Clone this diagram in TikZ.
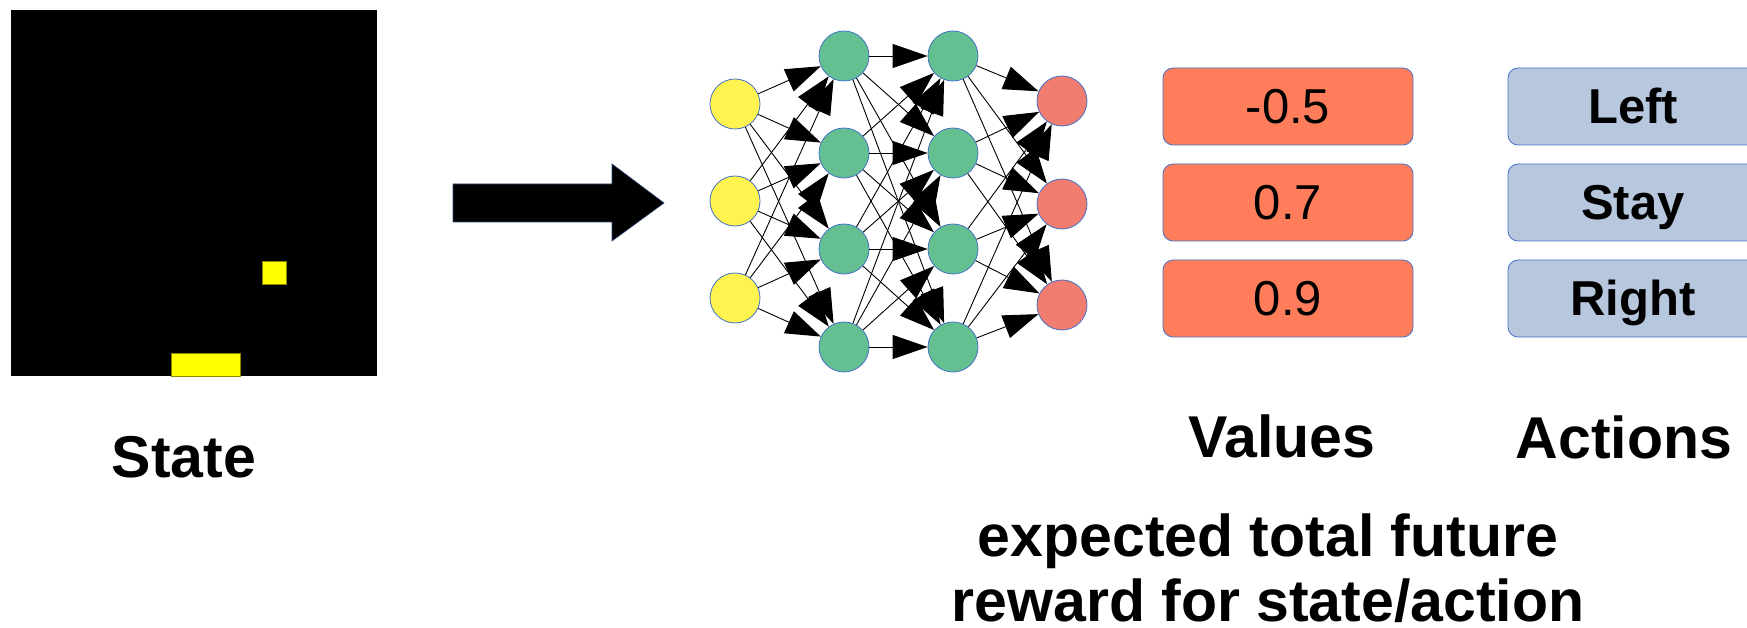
\documentclass[tikz,border=0pt]{standalone}
\usepackage{fontspec}
\setmainfont{Liberation Sans}
\usetikzlibrary{arrows.meta}

\definecolor{rimblue}{HTML}{4472C4}
\definecolor{inyellow}{RGB}{255,243,80}
\definecolor{hidgreen}{RGB}{100,192,145}
\definecolor{outred}{RGB}{241,124,112}
\definecolor{valorange}{RGB}{255,125,90}
\definecolor{actblue}{RGB}{183,200,222}
\definecolor{pixyellow}{RGB}{255,255,0}

\tikzset{
  neuron/.style={circle, draw=rimblue, line width=0.8pt, minimum size=50pt, inner sep=0pt},
  inlayer/.style={neuron, fill=inyellow},
  hidlayer/.style={neuron, fill=hidgreen},
  outlayer/.style={neuron, fill=outred},
  link/.style={-{Triangle[length=35pt,width=24pt]}, line width=0.9pt, draw=black},
  valbox/.style={rectangle, rounded corners=10pt, draw=rimblue, line width=0.8pt,
    fill=valorange, minimum width=250pt, minimum height=77pt, inner sep=0pt,
    text height=34pt, text depth=0pt, font=\fontsize{49}{58}\selectfont},
  actbox/.style={valbox, fill=actblue, font=\fontsize{49}{58}\selectfont\bfseries},
  caption/.style={font=\fontsize{59}{68}\selectfont\bfseries, anchor=base, inner sep=0pt}
}

\begin{document}
\begin{tikzpicture}[x=1pt, y=-1pt]
\useasboundingbox (0,0) rectangle (1747,628);
\clip (0,0) rectangle (1747,628);

% game screen: ball and paddle
\fill[black] (11,10) rectangle (377,376);
\draw[draw=olive, line width=0.6pt, fill=pixyellow] (262,261) rectangle (286,284);
\draw[draw=olive, line width=0.6pt, fill=pixyellow] (171,353) rectangle (240,376);
\node[caption] (statelbl) at (184,477) {State};

% block arrow into the network
\draw[fill=black, draw=rimblue!60!black, line width=0.6pt]
  (453,184) -- (612,184) -- (612,164) -- (664,203) -- (612,241) -- (612,222) -- (453,222) -- cycle;

% network layers
\foreach \y [count=\i] in {104,201,298}
  \node[inlayer] (in\i) at (735,\y) {};
\foreach \y [count=\i] in {56,153,249,347}
  \node[hidlayer] (ha\i) at (844,\y) {};
\foreach \y [count=\i] in {56,153,249,347}
  \node[hidlayer] (hb\i) at (953,\y) {};
\foreach \y [count=\i] in {101,204,305}
  \node[outlayer] (out\i) at (1062,\y) {};

% fully connected links
\foreach \i in {1,2,3}
  \foreach \j in {1,...,4}
    \draw[link] (in\i) -- (ha\j);
\foreach \i in {1,...,4}
  \foreach \j in {1,...,4}
    \draw[link] (ha\i) -- (hb\j);
\foreach \i in {1,...,4}
  \foreach \j in {1,2,3}
    \draw[link] (hb\i) -- (out\j);

% Q-values and actions
\node[valbox] (v1) at (1288,106.5) {-0.5};
\node[valbox] (v2) at (1288,202.5) {0.7};
\node[valbox] (v3) at (1288,298.5) {0.9};
\node[actbox] (a1) at (1633,106.5) {Left};
\node[actbox] (a2) at (1633,202.5) {Stay};
\node[actbox] (a3) at (1633,298.5) {Right};

\node[caption] (vallbl) at (1282,457) {Values};
\node[caption] (actlbl) at (1624,458) {Actions};
\node[caption] (expl1) at (1268,556) {expected total future};
\node[caption] (expl2) at (1268,621) {reward for state/action};
\end{tikzpicture}
\end{document}
